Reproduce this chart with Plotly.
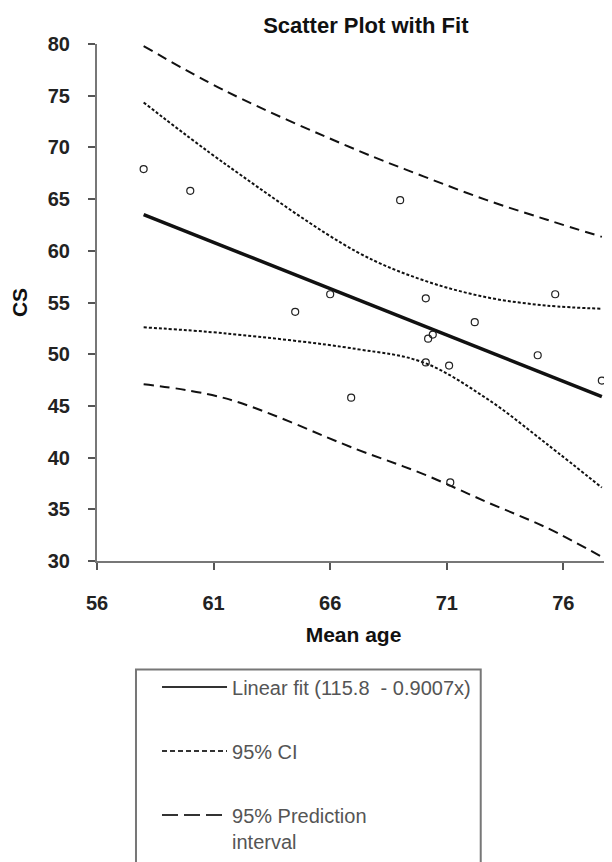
import plotly.graph_objects as go

# ---- data ----
age = [58.0, 60.0, 69.0, 66.0, 64.5, 70.1, 75.65, 72.2, 70.2, 70.4, 74.9, 71.1, 70.1, 77.65, 66.9, 71.15]
cs = [67.9, 65.8, 64.9, 55.8, 54.1, 55.4, 55.8, 53.1, 51.5, 51.9, 49.9, 48.9, 49.2, 47.45, 45.8, 37.6]

fit_x = [58.0, 77.65]
fit_y = [63.5, 45.9]

band_x = [58.0, 61.56, 67.14, 70.0, 72.72, 75.3, 77.65]
ci_upper = [74.35, 68.3, 59.9, 57.15, 55.5, 54.7, 54.4]
ci_lower = [52.6, 52.0, 50.5, 49.2, 45.7, 41.3, 37.1]
pi_upper = [79.8, 75.4, 69.75, 67.2, 64.9, 63.0, 61.35]
pi_lower = [47.1, 45.7, 40.8, 38.4, 35.7, 33.2, 30.4]

x_ticks = [56, 61, 66, 71, 76]
y_ticks = [30, 35, 40, 45, 50, 55, 60, 65, 70, 75, 80]

legend_names = ["Linear fit (115.8  - 0.9007x)", "95% CI", "95% Prediction<br>interval"]

FONT = "Liberation Sans, Arial, sans-serif"
LINE_C = "#111111"

fig = go.Figure()

# plotted marks (legend handled by proxies below)
fig.add_trace(go.Scatter(
    x=fit_x, y=fit_y, mode="lines", name=legend_names[0], showlegend=False,
    line=dict(color=LINE_C, width=3.5)))
for yb in (ci_upper, ci_lower):
    fig.add_trace(go.Scatter(
        x=band_x, y=yb, mode="lines", name=legend_names[1], showlegend=False,
        line=dict(color=LINE_C, width=2, dash="3px,2px", shape="spline")))
for yb in (pi_upper, pi_lower):
    fig.add_trace(go.Scatter(
        x=band_x, y=yb, mode="lines", name=legend_names[2], showlegend=False,
        line=dict(color=LINE_C, width=2, dash="10px,6px", shape="spline")))
fig.add_trace(go.Scatter(
    x=age, y=cs, mode="markers", name="data", showlegend=False,
    marker=dict(symbol="circle-open", size=7, color="#222222", line=dict(width=1.2)),
    cliponaxis=False))

# legend entries (thin sample lines as in the reference)
legend_styles = [dict(width=2, dash="solid"), dict(width=2, dash="5px,3px"), dict(width=2, dash="16px,6px")]
for i, (nm, st) in enumerate(zip(legend_names, legend_styles)):
    fig.add_trace(go.Scatter(
        x=[None], y=[None], mode="lines", name=nm, legendgroup="g%d" % i,
        line=dict(color="#333333", **st)))

# page body has an 8px default margin, so the figure is 604x854 and offset by 8px
fig.update_layout(
    width=604, height=854,
    margin=dict(l=89, r=2, t=36, b=299),
    paper_bgcolor="white", plot_bgcolor="white",
    font=dict(family=FONT, color="#222222"),
    title=dict(text="<b>Scatter Plot with Fit</b>", font=dict(size=22, color="#111111"),
               x=0.524, xref="paper", xanchor="center", y=0.980, yref="container", yanchor="middle"),
    showlegend=True,
    legend=dict(x=0.117, y=-0.206, xanchor="left", yanchor="top",
                borderwidth=0, bgcolor="rgba(0,0,0,0)",
                font=dict(size=20, color="#555555", family=FONT),
                tracegroupgap=35, itemwidth=65, traceorder="grouped", valign="top"),
    shapes=[dict(type="rect", xref="paper", yref="paper",
                 x0=0.076, x1=0.748, y0=-0.21, y1=-0.60,
                 line=dict(color="#777777", width=2), fillcolor="rgba(0,0,0,0)", layer="below")],
)

fig.update_xaxes(
    range=[56, 78], tickvals=x_ticks, ticktext=[str(v) for v in x_ticks],
    showgrid=False, zeroline=False, showline=True, linecolor="#777777", linewidth=2,
    ticks="outside", ticklen=7, tickwidth=2, tickcolor="#555555",
    tickfont=dict(size=20, color="#222222", weight="bold"), ticklabelstandoff=16,
    title=dict(text="<b>Mean age</b>", font=dict(size=21, color="#111111"), standoff=14),
)
fig.update_yaxes(
    range=[30, 80], tickvals=y_ticks, ticktext=[str(v) for v in y_ticks],
    showgrid=False, zeroline=False, showline=True, linecolor="#777777", linewidth=2,
    ticks="outside", ticklen=7, tickwidth=2, tickcolor="#555555",
    tickfont=dict(size=20, color="#222222", weight="bold"), ticklabelstandoff=14,
    title=dict(text="<b>CS</b>", font=dict(size=21, color="#111111"), standoff=20),
)

fig.write_html("out.html")
